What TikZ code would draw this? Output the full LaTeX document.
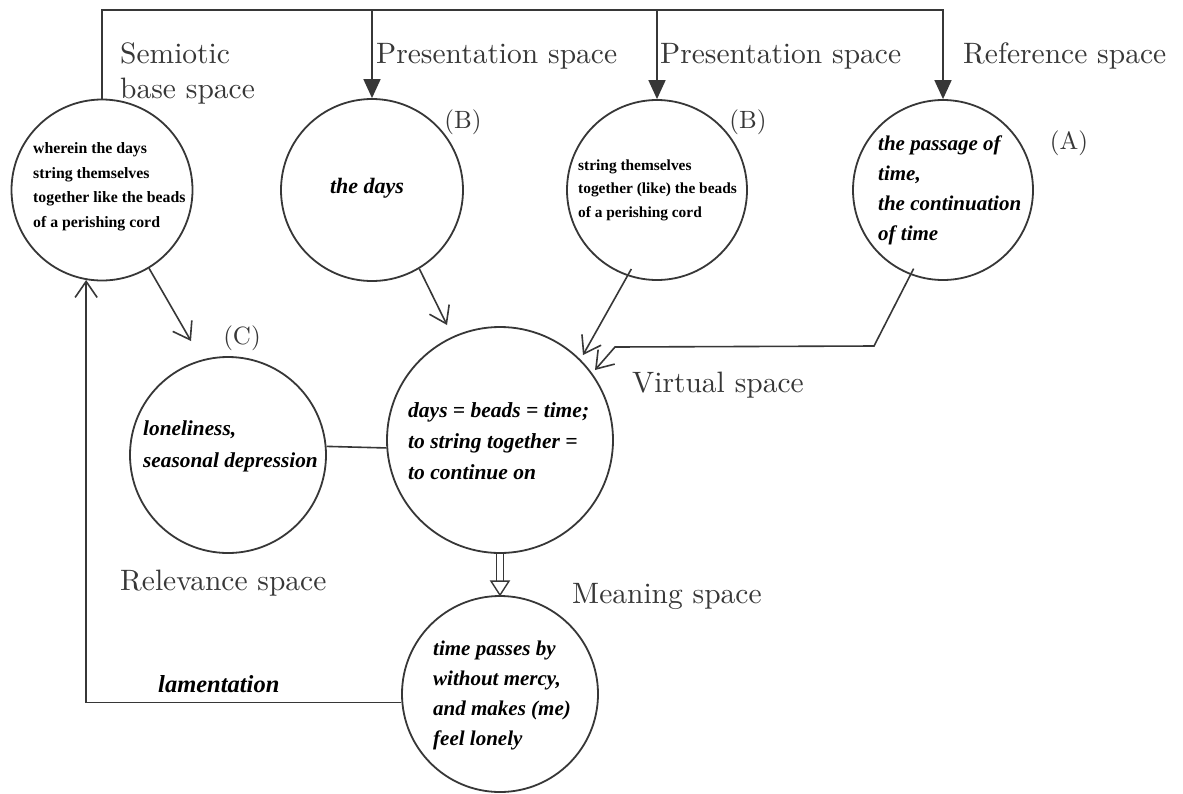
\documentclass[tikz,border=0pt]{standalone}
\usepackage{fontspec}
\setmainfont{lmroman10-regular}[Extension=.otf]
\newfontfamily\tnr{Liberation Serif}
\usetikzlibrary{arrows.meta,calc}
\definecolor{ink}{RGB}{55,55,55}

\begin{document}
\begin{tikzpicture}[x=1pt,y=-1pt,
  space/.style={circle,draw=ink,line width=1.8pt,inner sep=0pt},
  lbl/.style={anchor=base west,inner sep=0pt,text=ink,align=left,
              font=\fontsize{29.5}{35}\selectfont},
  tag/.style={inner sep=0pt,text=ink,font=\fontsize{25}{28}\selectfont},
  txt/.style={anchor=west,inner sep=0pt,align=left},
  conn/.style={draw=ink,line width=1.6pt},
  barb/.style={conn,-{Straight Barb[length=16pt,width=22pt,line width=1.6pt]}},
  bus/.style={conn,-{Triangle[width=17pt,length=19pt]}}]

\fill[white] (0,0) rectangle (1183,793);
\useasboundingbox (0,0) rectangle (1183,793);

% spaces
\node[space,minimum size=181pt] (semi) at (102,190) {};
\node[space,minimum size=182pt] (days) at (372,190) {};
\node[space,minimum size=180pt] (str)  at (657,190) {};
\node[space,minimum size=180pt] (pass) at (943,190) {};
\node[space,minimum size=196pt] (rel)  at (228,455) {};
\node[space,minimum size=226pt] (virt) at (500,440) {};
\node[space,minimum size=196pt] (mean) at (500,694) {};

% texts inside the spaces
\node[txt,font=\tnr\bfseries\fontsize{15.8}{24.5}\selectfont] (semitxt) at (33,187)
  {wherein the days\\string themselves\\together like the beads\\of a perishing cord};
\node[inner sep=0pt,font=\tnr\bfseries\itshape\fontsize{22}{24}\selectfont] (daystxt) at (367,188) {the days};
\node[txt,font=\tnr\bfseries\fontsize{15.4}{23.5}\selectfont] (strtxt) at (578,190)
  {string themselves\\together (like) the beads\\of a perishing cord};
\node[txt,font=\tnr\bfseries\itshape\fontsize{21}{30}\selectfont] (passtxt) at (878,190)
  {the passage of\\time,\\the continuation\\of time};
\node[txt,font=\tnr\bfseries\itshape\fontsize{21.3}{32}\selectfont] (reltxt) at (143,446)
  {loneliness,\\seasonal depression};
\node[txt,font=\tnr\bfseries\itshape\fontsize{21.5}{31}\selectfont] (virttxt) at (408,441)
  {days = beads = time;\\to string together =\\to continue on};
\node[txt,font=\tnr\bfseries\itshape\fontsize{21}{30}\selectfont] (meantxt) at (433,695)
  {time passes by\\without mercy,\\and makes (me)\\feel lonely};

% space labels
\node[lbl] (lsemi) at (120,98) {Semiotic\\base space};
\node[lbl] (lpres1) at (376,63) {Presentation space};
\node[lbl] (lpres2) at (660,63) {Presentation space};
\node[lbl] (lref) at (963,63) {Reference space};
\node[lbl] (lvirt) at (632,392) {Virtual space};
\node[lbl] (lmean) at (572,603) {Meaning space};
\node[lbl] (lrel) at (120,590) {Relevance space};
\node[tag] (tb1) at (463,122) {(B)};
\node[tag] (tb2) at (748,122) {(B)};
\node[tag] (ta) at (1069,143) {(A)};
\node[tag] (tc) at (242,338) {(C)};
\node[anchor=base west,inner sep=0pt,font=\tnr\bfseries\itshape\fontsize{24.5}{26}\selectfont]
  (lament) at (158,692) {lamentation};

% top distribution line
\coordinate (topy) at (0,10);
\draw[bus] (semi.north) -- (semi.north |- topy) -- (pass.north |- topy) -- (pass.north);
\draw[bus] (days.north |- topy) -- (days.north);
\draw[bus] (str.north |- topy) -- (str.north);

% free arrow ends
\coordinate (relin)  at (191,341);
\coordinate (daysin) at (447,325);
\coordinate (strin)  at (583,355);
\coordinate (pbend1) at (874,346);
\coordinate (pbend2) at (615,347);
\coordinate (passin) at (595,370);

\draw[barb] (semi.-59) -- (relin);
\draw[barb] (days.-59) -- (daysin);
\draw[barb,shorten <=-8pt] (str.-109) -- (strin);
\draw[barb,shorten <=-7pt] (pass.-111) -- (pbend1) -- (pbend2) -- (passin);

% relevance to virtual
\draw[conn] (rel.5) -- (virt.184);

% virtual to meaning (double arrow)
\draw[conn,line width=1.4pt] ([xshift=-3.5pt]virt.south) -- ([xshift=-3.5pt,yshift=14pt]mean.north);
\draw[conn,line width=1.4pt] ([xshift=3.5pt]virt.south) -- ([xshift=3.5pt,yshift=14pt]mean.north);
\draw[conn,line width=1.4pt,fill=white,line join=miter] (mean.north) -- ++(-9,-14) -- ++(18,0) -- cycle;

% lamentation feedback
\draw[barb] (mean.185) -| (semi.260);
\end{tikzpicture}
\end{document}
